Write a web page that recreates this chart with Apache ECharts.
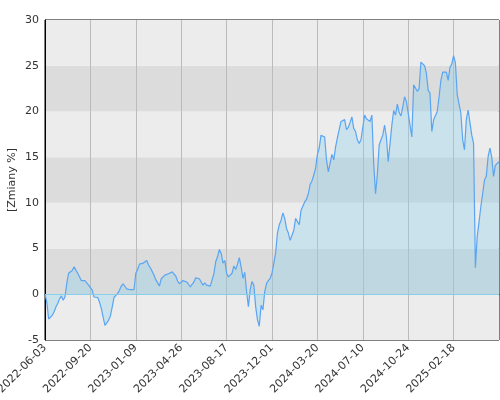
<!DOCTYPE html>
<html>
<head>
    <meta charset="utf-8">
    <title></title>
    <script src="https://cdn.jsdelivr.net/npm/echarts@6/dist/echarts.min.js"></script>
    <style>
        body{
            margin: 0;
        }
        #chart{
            width: 500px;
            height: 400px;
        }
    </style>
</head>
<body>
<div id="chart"></div>
<script>
    // daty etykiet osi X (co 25 punktow)
    var tickDates = ['2022-06-03','2022-09-20','2023-01-09','2023-04-26','2023-08-17',
        '2023-12-01','2024-03-20','2024-07-10','2024-10-24','2025-02-18'];
    var lastDate = '2025-06-10';
    var perTick = 25;

    // zmiany %
    var values = [
        0, -0.85, -2.7, -2.85, -2.3, -1.9, -1.4, -1.0, -0.5, -0.2,
        -0.65, -0.3, 1.2, 2.3, 2.1, 2.6, 3.0, 2.8, 2.3, 2.1,
        1.5, 1.35, 1.5, 1.35, 1.0, 0.8, 0.45, -0.3, -0.5, -0.35,
        -0.85, -1.55, -2.5, -3.4, -3.5, -2.85, -2.4, -1.4, -0.35, -0.35,
        0.1, 0.45, 0.9, 1.15, 1.1, 0.6, 0.45, 0.5, 0.45, 0.5,
        2.3, 2.7, 3.3, 3.2, 3.4, 3.35, 3.7, 3.2, 2.9, 2.7,
        2.1, 1.6, 1.25, 0.9, 1.7, 1.8, 2.1, 2.1, 2.25, 2.25,
        2.45, 2.45, 2.0, 1.45, 1.15, 1.1, 1.5, 1.6, 1.35, 1.1,
        0.8, 0.7, 1.35, 1.8, 1.9, 1.7, 1.35, 1.0, 1.25, 1.0,
        0.8, 0.9, 1.0, 2.25, 3.55, 4.1, 4.9, 4.5, 3.4, 3.7,
        2.3, 1.9, 1.9, 2.3, 3.1, 2.7, 3.3, 4.0, 3.0, 1.75,
        2.4, 0.3, -1.35, 0.5, 1.4, 1.0, -1.35, -2.8, -3.5, -1.2,
        -1.7, 0.3, 1.2, 1.5, 1.75, 2.3, 3.4, 4.5, 6.7, 7.6,
        8.1, 8.9, 8.3, 7.2, 6.7, 5.9, 6.1, 7.0, 8.3, 7.95,
        7.6, 9.2, 9.0, 10.1, 10.4, 11.0, 12.0, 12.4, 13.05, 13.8,
        15.3, 16.0, 17.4, 17.3, 17.2, 14.7, 13.4, 13.6, 15.3, 14.7,
        16.1, 17.1, 18.0, 18.9, 19.1, 19.1, 18.0, 18.25, 18.8, 19.4,
        18.15, 17.8, 16.9, 16.5, 16.9, 16.9, 19.6, 19.2, 19.1, 18.9,
        19.6, 14.3, 11.0, 13.05, 16.3, 16.9, 17.4, 18.5, 17.2, 14.5,
        16.5, 18.5, 20.1, 19.6, 20.8, 19.9, 19.5, 20.5, 21.6, 21.1,
        19.8, 18.5, 17.2, 22.9, 23.1, 22.2, 22.5, 25.4, 25.3, 25.0,
        24.2, 22.3, 22.0, 17.8, 19.1, 19.2, 20.0, 21.6, 23.4, 24.3,
        24.3, 24.3, 23.4, 24.8, 25.2, 26.1, 25.3, 21.8, 22.0, 19.8,
        16.9, 15.8, 19.1, 20.15, 20.3, 17.4, 16.5, 2.9, 6.3, 7.9,
        9.6, 11.0, 12.5, 12.9, 15.05, 16.0, 15.0, 12.9, 14.1, 14.1,
        14.5
    ];

    function buildDates() {
        var day = 86400000;
        var out = [];
        var ends = tickDates.slice(1).concat([lastDate]);
        for (var k = 0; k < tickDates.length; k++) {
            var a = Date.parse(tickDates[k]), b = Date.parse(ends[k]);
            for (var j = 0; j < perTick; j++) {
                var d = new Date(a + Math.round(j * (b - a) / perTick / day) * day);
                out.push(d.toISOString().slice(0, 10));
            }
        }
        out.push(lastDate);
        return out;
    }
    var dates = buildDates();

    // tylko daty z tickDates
    function isTick(idx) {
        return idx % perTick === 0 && idx / perTick < tickDates.length;
    }

    var option = {
        animation: false,
        grid: {
            left: 45, right: 1, top: 20, bottom: 60,
            outerBoundsMode: 'none',
            containLabel: false,
            show: true,
            borderColor: '#000',
            borderWidth: 1,
            backgroundColor: 'transparent'
        },
        xAxis: {
            type: 'category',
            boundaryGap: false,
            data: dates,
            axisLine: {lineStyle: {color: '#000'}},
            axisTick: {show: false},
            axisLabel: {
                interval: isTick,
                rotate: 45,
                color: '#333',
                fontSize: 11,
                fontFamily: 'DejaVu Sans',
                margin: 6
            },
            splitLine: {
                show: true,
                interval: isTick,
                lineStyle: {color: '#bbb', width: 1}
            }
        },
        yAxis: {
            type: 'value',
            min: -5,
            max: 30,
            interval: 5,
            name: '[Zmiany %]',
            nameLocation: 'middle',
            nameGap: 27,
            nameMoveOverlap: false,
            nameTextStyle: {color: '#333', fontSize: 11, fontFamily: 'DejaVu Sans'},
            axisLine: {show: true, lineStyle: {color: '#000'}},
            axisTick: {show: false},
            axisLabel: {color: '#333', fontSize: 11, fontFamily: 'DejaVu Sans', margin: 6},
            splitLine: {show: false},
            splitArea: {show: true, areaStyle: {color: ['#ececec', '#dcdcdc']}}
        },
        series: [{
            type: 'line',
            data: values,
            symbol: 'none',
            lineStyle: {color: '#5aa5f2', width: 1.2},
            areaStyle: {color: 'rgba(135,206,235,0.5)'},
            markLine: {
                silent: true,
                symbol: 'none',
                label: {show: false},
                lineStyle: {color: '#87ceeb', width: 1, type: 'solid'},
                data: [{yAxis: 0}]
            }
        }]
    };
    var myChart = echarts.init(document.getElementById('chart'));
    myChart.setOption(option);
</script>
</body>
</html>
